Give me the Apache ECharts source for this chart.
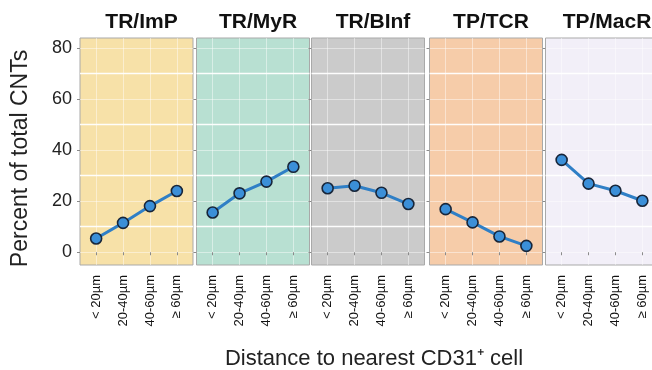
<!DOCTYPE html>
<html>
<head>
<meta charset="utf-8">
<script src="https://cdn.jsdelivr.net/npm/echarts@6/dist/echarts.min.js"></script>
<style>html,body{margin:0;padding:0;background:#fff}#c{width:652px;height:370px}</style>
</head>
<body>
<div id="c"></div>
<script>
var categories = ['< 20µm', '20-40µm', '40-60µm', '≥ 60µm'];
var panelNames = ['TR/ImP', 'TR/MyR', 'TR/BInf', 'TP/TCR', 'TP/MacR'];
var trImP  = [5.4, 11.5, 18.1, 24.0];
var trMyR  = [15.6, 23.1, 27.7, 33.5];
var trBInf = [25.1, 26.1, 23.3, 18.9];
var tpTCR  = [16.9, 11.7, 6.2, 2.5];
var tpMacR = [36.2, 26.9, 24.1, 20.2];
var yTicks = [0, 20, 40, 60, 80];
var yMinorLines = [10, 30, 50, 70];
var panelValues = [trImP, trMyR, trBInf, tpTCR, tpMacR];

var panelBg = ['#f7e1a8', '#b8e0d2', '#cbcbcb', '#f6cca9', '#f2eff8'];
var panelLeft = [80, 196.5, 311.5, 429.5, 545.5];
var panelW = 113;
var gridTop = 38, gridH = 227;
var font = 'Liberation Sans, Arial, sans-serif';

var grids = [], xAxes = [], yAxes = [], series = [], titles = [];
var catIdx = categories.map(function (c, i) { return i + 1; });

panelNames.forEach(function (name, p) {
  grids.push({
    left: panelLeft[p], top: gridTop, width: panelW, height: gridH,
    outerBoundsMode: 'none', containLabel: false,
    show: true, backgroundColor: panelBg[p], borderColor: '#a9a9a9', borderWidth: 1
  });
  xAxes.push({
    type: 'value', gridIndex: p, min: 0.4, max: 4.6,
    axisLine: { show: false },
    axisTick: { show: true, length: 3, lineStyle: { color: '#8a8a8a' }, customValues: catIdx },
    axisLabel: {
      show: true, rotate: 90, margin: 10, fontSize: 13, color: '#111', fontFamily: font,
      customValues: catIdx,
      formatter: function (v) { return categories[Math.round(v) - 1] || ''; }
    },
    splitLine: { show: true, lineStyle: { color: 'rgba(255,255,255,0.45)', width: 1 } }
  });
  yAxes.push({
    type: 'value', gridIndex: p, min: -5, max: 84,
    axisLine: { show: false },
    axisTick: { show: true, length: 3, lineStyle: { color: '#8a8a8a' }, customValues: yTicks },
    axisLabel: {
      show: p === 0, customValues: yTicks, fontSize: 18, color: '#222', margin: 8, fontFamily: font
    },
    splitLine: { show: true, lineStyle: { color: 'rgba(255,255,255,0.45)', width: 1 } },
    name: p === 0 ? 'Percent of total CNTs' : '',
    nameLocation: 'middle', nameGap: 48,
    nameTextStyle: { fontSize: 23, color: '#222', fontFamily: font, padding: [0, 14, 0, 0] }
  });
  yAxes.push({
    type: 'value', gridIndex: p, min: -5, max: 84, position: 'left',
    axisLine: { show: false },
    axisTick: { show: false, customValues: yMinorLines },
    axisLabel: { show: false, customValues: yMinorLines },
    splitLine: { show: true, lineStyle: { color: 'rgba(255,255,255,0.95)', width: 1.3 } }
  });
  series.push({
    type: 'line', xAxisIndex: p, yAxisIndex: 2 * p,
    data: panelValues[p].map(function (v, i) { return [i + 1, v]; }),
    lineStyle: { color: '#2f7fc6', width: 3 },
    symbol: 'circle', symbolSize: 11,
    itemStyle: { color: '#3b8fd8', borderColor: '#18263a', borderWidth: 1.6 },
    z: 5
  });
  titles.push({
    text: name, left: panelLeft[p] + panelW / 2, top: 7, textAlign: 'center',
    textStyle: { fontSize: 21, fontWeight: 'bold', color: '#111', fontFamily: font }
  });
});

titles.push({
  text: 'Distance to nearest CD31\u207A cell', left: 369, top: 343, textAlign: 'center',
  textStyle: { fontSize: 22, fontWeight: 'normal', color: '#222', fontFamily: font }
});

var chart = echarts.init(document.getElementById('c'), null, { renderer: 'canvas' });
chart.setOption({
  animation: false,
  backgroundColor: '#fff',
  title: titles,
  grid: grids,
  xAxis: xAxes,
  yAxis: yAxes,
  series: series
});
</script>
</body>
</html>
